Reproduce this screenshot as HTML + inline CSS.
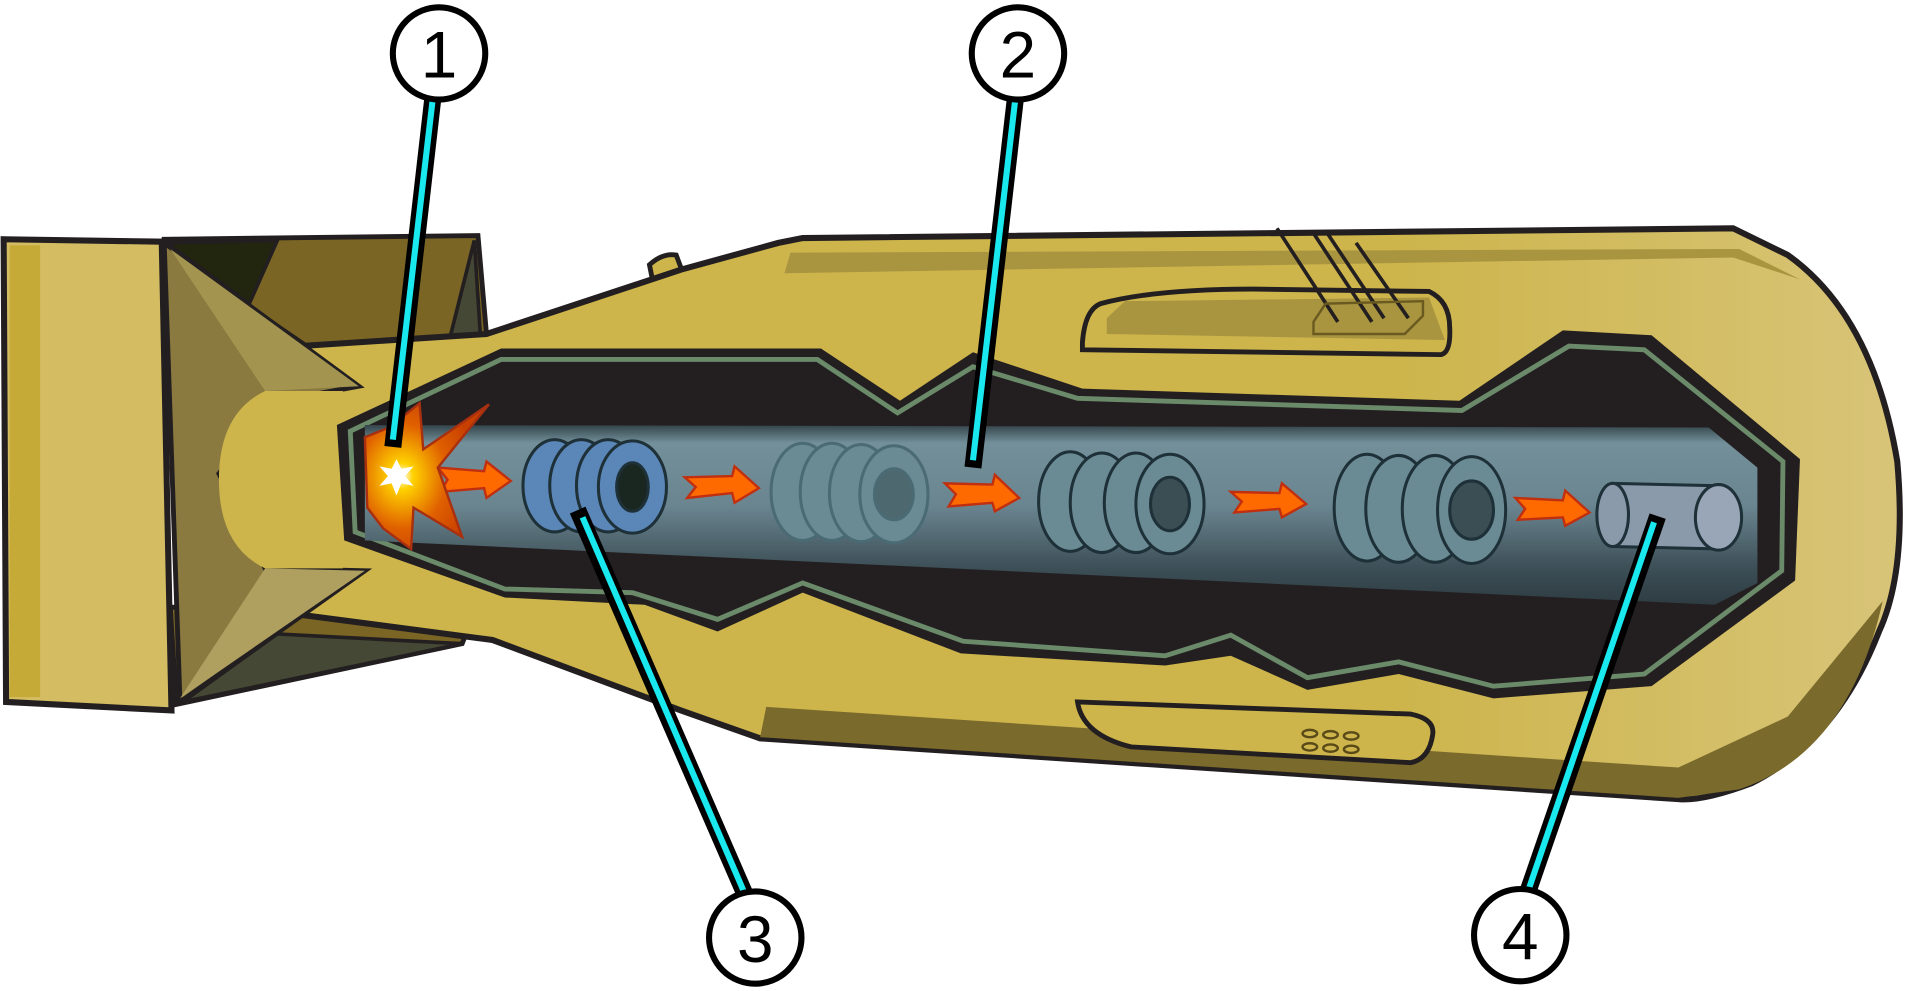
<!DOCTYPE html>
<html><head><meta charset="utf-8"><style>
html,body{margin:0;padding:0;background:#fff;}
svg{display:block;}
</style></head><body>
<svg width="1907" height="991" viewBox="0 0 1568 816" preserveAspectRatio="none" xmlns="http://www.w3.org/2000/svg">
<defs>
<linearGradient id="barrel" x1="0" y1="0" x2="0" y2="1">
<stop offset="0" stop-color="#34444a"/><stop offset="0.1" stop-color="#73909a"/><stop offset="0.45" stop-color="#6a8590"/><stop offset="0.8" stop-color="#3c4e56"/><stop offset="1" stop-color="#2e3c42"/></linearGradient>
<linearGradient id="nose" x1="0" y1="0" x2="1" y2="0">
<stop offset="0" stop-color="#cdb54c"/><stop offset="0.7" stop-color="#cdb54c"/><stop offset="1" stop-color="#d8c478"/></linearGradient>
<radialGradient id="boom" cx="0.3" cy="0.5" r="0.6"><stop offset="0" stop-color="#fff"/><stop offset="0.15" stop-color="#ffd200"/><stop offset="0.6" stop-color="#e06000"/><stop offset="1" stop-color="#c84000"/></radialGradient>
</defs>
<!-- tail box top fins -->
<polygon points="135,197 393,194 400,275 370,285 255,287 135,205" fill="#7a6524" stroke="#231f20" stroke-width="4"/>
<polygon points="137,200 228,198 205,250" fill="#22260e" stroke="#231f20" stroke-width="3"/>
<polygon points="390,198 370,278 395,276" fill="#454834" stroke="#231f20" stroke-width="3"/>
<polygon points="140,500 390,505 380,530 145,580" fill="#7a6524" stroke="#231f20" stroke-width="4"/>
<polygon points="150,578 228,522 380,530" fill="#454834" stroke="#231f20" stroke-width="3"/>
<!-- knob -->
<path d="M534,218 Q545,208 556,210 L562,226 Q560,240 548,240 Q540,238 536,228 Z" fill="#cdb54c" stroke="#231f20" stroke-width="4"/>
<!-- main body -->
<path d="M200,288 L400,275 L530,232 L560,222 L640,200 L660,196 L1425,188 L1470,210 Q1540,260 1560,380 Q1568,470 1545,520 Q1510,610 1440,645 Q1400,660 1380,658 L625,608 L560,585 L405,527 L200,500 Z" fill="url(#nose)" stroke="#231f20" stroke-width="5"/>
<path d="M645,225 L1425,212 L1480,230 L1430,205 L650,208 Z" fill="#a99540"/>
<path d="M630,582 L1380,632 L1470,590 L1548,495 Q1520,620 1430,650 L1380,657 L625,607 Z" fill="#7a6a2c"/>
<!-- tail box -->
<polygon points="3,197 133,199 141,585 5,578" fill="#d4bc62" stroke="#231f20" stroke-width="5"/>
<rect x="8" y="202" width="25" height="372" fill="#c5aa38"/>
<polygon points="135,200 295,318 230,330 180,390 218,468 300,470 148,578" fill="#8a7a40" stroke="#231f20" stroke-width="4"/>
<polygon points="140,205 218,322 295,318" fill="#a39450"/>
<polygon points="148,575 218,468 300,470" fill="#b0a060"/>
<path d="M218,322 Q180,340 180,395 Q180,450 218,468 L282,468 L282,322 Z" fill="#cdb54c"/>
<!-- top handle -->
<path d="M890,282 Q892,255 905,250 Q950,238 1030,238 L1175,240 Q1192,248 1192,270 Q1193,290 1185,292 L890,288 Z" fill="#cdb54c" stroke="#231f20" stroke-width="4"/>
<path d="M910,275 L910,262 L925,248 L1175,245 L1188,280 Z" fill="#a99540"/>
<g stroke="#231f20" stroke-width="3" fill="none"><path d="M1050,188 L1100,265 M1080,192 L1128,265 M1090,190 L1138,262 M1115,200 L1158,262"/></g>
<path d="M1080,265 L1090,250 L1170,248 L1170,260 L1155,275 L1080,275 Z" fill="none" stroke="#6b5a20" stroke-width="2"/>
<!-- bottom handle -->
<path d="M886,578 L1160,588 Q1180,592 1178,605 Q1175,625 1160,628 L930,615 Q890,605 886,578 Z" fill="#cdb54c" stroke="#231f20" stroke-width="4"/>
<g fill="none" stroke="#5a4a18" stroke-width="2"><ellipse cx="1077" cy="604" rx="6" ry="3"/><ellipse cx="1094" cy="605" rx="6" ry="3"/><ellipse cx="1111" cy="606" rx="6" ry="3"/><ellipse cx="1077" cy="615" rx="6" ry="3"/><ellipse cx="1094" cy="616" rx="6" ry="3"/><ellipse cx="1111" cy="617" rx="6" ry="3"/></g>
<!-- cavity outer -->
<polygon points="277,350 412,287 675,287 740,330 800,290 890,320 1200,330 1285,272 1358,276 1480,378 1476,478 1358,565 1228,575 1150,555 1075,568 1012,540 958,548 790,538 660,488 590,520 530,498 415,492 283,445" fill="#231f20"/>
<polygon points="288,355 412,296 672,296 738,340 800,302 886,328 1202,338 1290,285 1352,288 1466,380 1465,470 1352,555 1228,565 1150,545 1075,558 1012,523 958,540 792,528 660,480 590,510 520,488 415,485 292,438" fill="none" stroke="#6a8a6a" stroke-width="4"/>
<!-- barrel -->
<polygon points="300,350 1405,352 1445,385 1445,480 1410,498 300,445" fill="url(#barrel)"/>
<!-- projectile rings -->
<g stroke="#1e3038" stroke-width="2.5">
<g fill="#5a86b8"><ellipse cx="456" cy="400" rx="26" ry="38"/><ellipse cx="478" cy="400" rx="26" ry="38"/><ellipse cx="500" cy="400" rx="26" ry="38"/><ellipse cx="520" cy="401" rx="28" ry="38"/><ellipse cx="520" cy="401" rx="13" ry="20" fill="#1a2620"/></g>
<g fill="#6a8a94" stroke="#4a6a74"><ellipse cx="660" cy="405" rx="26" ry="40"/><ellipse cx="684" cy="405" rx="26" ry="40"/><ellipse cx="708" cy="406" rx="26" ry="40"/><ellipse cx="735" cy="407" rx="28" ry="40"/><ellipse cx="735" cy="407" rx="16" ry="21" fill="#4e6870"/></g>
<g fill="#6a8a94"><ellipse cx="880" cy="413" rx="26" ry="41"/><ellipse cx="906" cy="414" rx="26" ry="41"/><ellipse cx="934" cy="414" rx="26" ry="41"/><ellipse cx="962" cy="415" rx="28" ry="41"/><ellipse cx="962" cy="415" rx="16" ry="22" fill="#3a4e54"/></g>
<g fill="#6a8a94"><ellipse cx="1124" cy="418" rx="27" ry="44"/><ellipse cx="1150" cy="419" rx="27" ry="44"/><ellipse cx="1180" cy="419" rx="27" ry="44"/><ellipse cx="1210" cy="420" rx="28" ry="44"/><ellipse cx="1210" cy="420" rx="18" ry="24" fill="#3a4e54"/></g>
<path d="M1326,398 L1412,400 L1412,452 L1326,450 Z" fill="#8a9aaa"/><ellipse cx="1326" cy="424" rx="13" ry="26" fill="#8a9aaa"/><ellipse cx="1413" cy="426" rx="19" ry="27" fill="#99a6b8"/>
</g>
<!-- arrows -->
<g fill="#ff6a00" stroke="#c03010" stroke-width="2">
<polygon points="360,385 398,388 400,380 420,396 400,410 398,402 362,405 368,395"/>
<polygon points="563,393 602,392 604,384 624,402 604,414 602,406 565,410 572,401"/>
<polygon points="777,398 816,399 818,391 838,410 818,421 816,414 780,417 786,407"/>
<polygon points="1012,405 1052,406 1054,398 1074,415 1054,426 1052,419 1015,422 1021,413"/>
<polygon points="1246,410 1285,412 1287,404 1307,422 1287,433 1285,426 1248,428 1254,419"/>
</g>
<!-- explosion -->
<polygon points="300,360 320,352 345,332 348,370 402,333 360,385 380,442 340,418 338,452 315,435 302,418" fill="url(#boom)" stroke="#a83010" stroke-width="2"/>
<polygon points="326,378 330,386 340,384 333,392 340,400 330,398 326,408 322,398 312,400 319,392 312,384 322,386" fill="#fff"/>
<!-- callout lines -->
<g stroke-linecap="butt">
<line x1="356" y1="80" x2="323" y2="368" stroke="#000" stroke-width="14"/><line x1="356" y1="80" x2="323" y2="362" stroke="#1ae8ef" stroke-width="5"/>
<line x1="835" y1="80" x2="800" y2="385" stroke="#000" stroke-width="14"/><line x1="835" y1="80" x2="800" y2="379" stroke="#1ae8ef" stroke-width="5"/>
<line x1="475" y1="420" x2="612" y2="735" stroke="#000" stroke-width="14"/><line x1="479" y1="426" x2="612" y2="735" stroke="#1ae8ef" stroke-width="5"/>
<line x1="1363" y1="425" x2="1256" y2="735" stroke="#000" stroke-width="14"/><line x1="1360" y1="430" x2="1256" y2="735" stroke="#1ae8ef" stroke-width="5"/>
</g>
<!-- circles -->
<g fill="#fff" stroke="#000" stroke-width="5">
<circle cx="361" cy="44" r="38"/><circle cx="837" cy="44" r="38"/><circle cx="621" cy="772" r="38"/><circle cx="1250" cy="770" r="38"/>
</g>
<g font-family="Liberation Sans, sans-serif" font-size="54" text-anchor="middle" fill="#000">
<text x="361" y="64">1</text><text x="837" y="64">2</text><text x="621" y="792">3</text><text x="1250" y="790">4</text>
</g>
</svg>
</body></html>
